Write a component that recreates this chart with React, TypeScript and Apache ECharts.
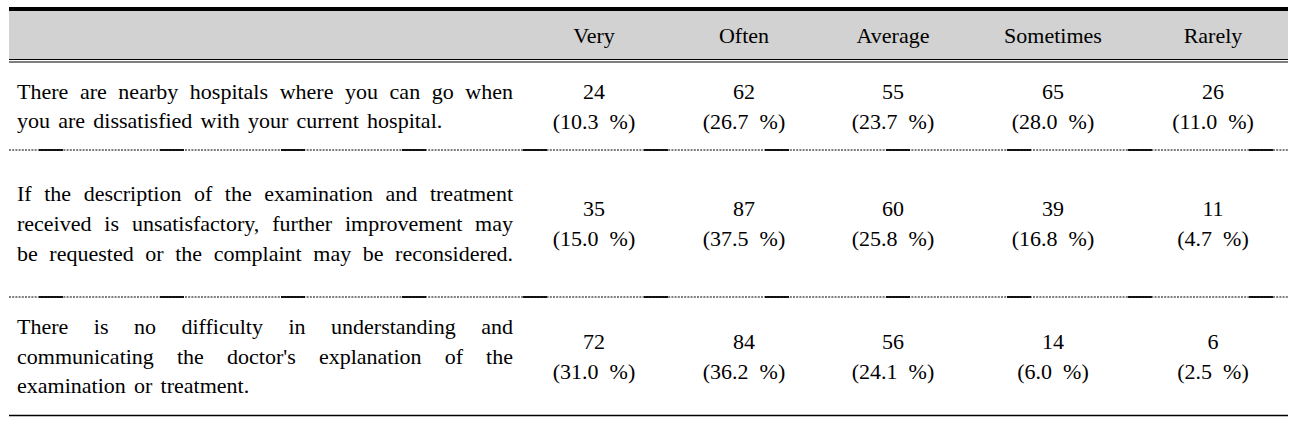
import React, { useEffect, useRef } from "react";
import * as echarts from "echarts";

// ---------- data ----------
const categories = ["Very", "Often", "Average", "Sometimes", "Rarely"];

const statementLines: string[][] = [
  [
    "There are nearby hospitals where you can go when",
    "you are dissatisfied with your current hospital.",
  ],
  [
    "If the description of the examination and treatment",
    "received is unsatisfactory, further improvement may",
    "be requested or the complaint may be reconsidered.",
  ],
  [
    "There is no difficulty in understanding and",
    "communicating the doctor's explanation of the",
    "examination or treatment.",
  ],
];

const counts: number[][] = [
  [24, 62, 55, 65, 26],
  [35, 87, 60, 39, 11],
  [72, 84, 56, 14, 6],
];

const percents: number[][] = [
  [10.3, 26.7, 23.7, 28.0, 11.0],
  [15.0, 37.5, 25.8, 16.8, 4.7],
  [31.0, 36.2, 24.1, 6.0, 2.5],
];

// ---------- layout ----------
const FONT_FAMILY = "Liberation Serif";
const FS = 22;
const TABLE_L = 9;
const TABLE_R = 1288;
const TEXT_L = 17;
const TEXT_R = 513;
const COL_X = [594, 744, 893, 1053, 1213];
const HEADER_Y = 35.5;
const ROW_TOP = [62, 150, 297];
const ROW_BOT = [150, 297, 415];
const LINE_H = 29.6;

function buildOption() {
  const ctx = document.createElement("canvas").getContext("2d")!;
  ctx.font = `${FS}px "${FONT_FAMILY}"`;
  const mw = (s: string) => ctx.measureText(s).width;
  const spaceW = mw(" ");

  const els: any[] = [];
  const txt = (s: string, x: number, y: number, align: string) => ({
    type: "text",
    x,
    y,
    style: {
      text: s,
      fontFamily: FONT_FAMILY,
      fontSize: FS,
      fill: "#000",
      align,
      verticalAlign: "middle",
    },
  });

  // header background and rules
  els.push({
    type: "rect",
    shape: { x: TABLE_L, y: 11, width: TABLE_R - TABLE_L, height: 48 },
    style: { fill: "#d2d2d2" },
  });
  els.push({
    type: "rect",
    shape: { x: TABLE_L, y: 7, width: TABLE_R - TABLE_L, height: 4 },
    style: { fill: "#000" },
  });
  [59.5, 62].forEach((y) =>
    els.push({
      type: "line",
      shape: { x1: TABLE_L, y1: y, x2: TABLE_R, y2: y },
      style: { stroke: "#000", lineWidth: 1.1 },
    })
  );
  // dashed separators
  [ROW_BOT[0], ROW_BOT[1]].forEach((y) => {
    els.push({
      type: "line",
      shape: { x1: TABLE_L, y1: y, x2: TABLE_R, y2: y },
      style: { stroke: "#000", lineWidth: 1.2, lineDash: [2, 1.2] },
    });
    for (let i = 0; i < 11; i++) {
      const sx = 39 + i * 121;
      els.push({
        type: "line",
        shape: { x1: sx, y1: y, x2: sx + 24, y2: y },
        style: { stroke: "#000", lineWidth: 1.8 },
      });
    }
  });
  // bottom rule
  els.push({
    type: "line",
    shape: { x1: TABLE_L, y1: 415.5, x2: TABLE_R, y2: 415.5 },
    style: { stroke: "#000", lineWidth: 1.5 },
  });

  // header texts
  categories.forEach((c, i) => els.push(txt(c, COL_X[i], HEADER_Y, "center")));

  // rows
  statementLines.forEach((lines, r) => {
    const cy = (ROW_TOP[r] + ROW_BOT[r]) / 2;
    const y0 = cy - ((lines.length - 1) * LINE_H) / 2;
    lines.forEach((line, li) => {
      const words = line.split(" ");
      const widths = words.map(mw);
      const sum = widths.reduce((a, b) => a + b, 0);
      const avail = TEXT_R - TEXT_L;
      const looseGap = spaceW * 1.5;
      const natural = sum + looseGap * (words.length - 1);
      const isLast = li === lines.length - 1;
      const justify = !isLast || natural > avail * 0.93;
      const gap = justify ? (avail - sum) / (words.length - 1) : looseGap;
      let x = TEXT_L;
      const y = y0 + li * LINE_H;
      words.forEach((w, wi) => {
        els.push(txt(w, x, y, "left"));
        x += widths[wi] + gap;
      });
    });
    categories.forEach((_, c) => {
      els.push(txt(String(counts[r][c]), COL_X[c], cy - 15, "center"));
      els.push(
        txt(`(${percents[r][c].toFixed(1)}  %)`, COL_X[c], cy + 15, "center")
      );
    });
  });

  return { animation: false, graphic: { elements: els } };
}

export default function App() {
  const ref = useRef<HTMLDivElement>(null);
  useEffect(() => {
    if (!ref.current) return;
    const chart = echarts.init(ref.current, undefined, { renderer: "svg" });
    chart.setOption(buildOption() as any);
    return () => chart.dispose();
  }, []);
  return (
    <div
      ref={ref}
      style={{
        position: "fixed",
        left: 0,
        top: 0,
        width: 1296,
        height: 425,
        background: "#fff",
      }}
    />
  );
}
